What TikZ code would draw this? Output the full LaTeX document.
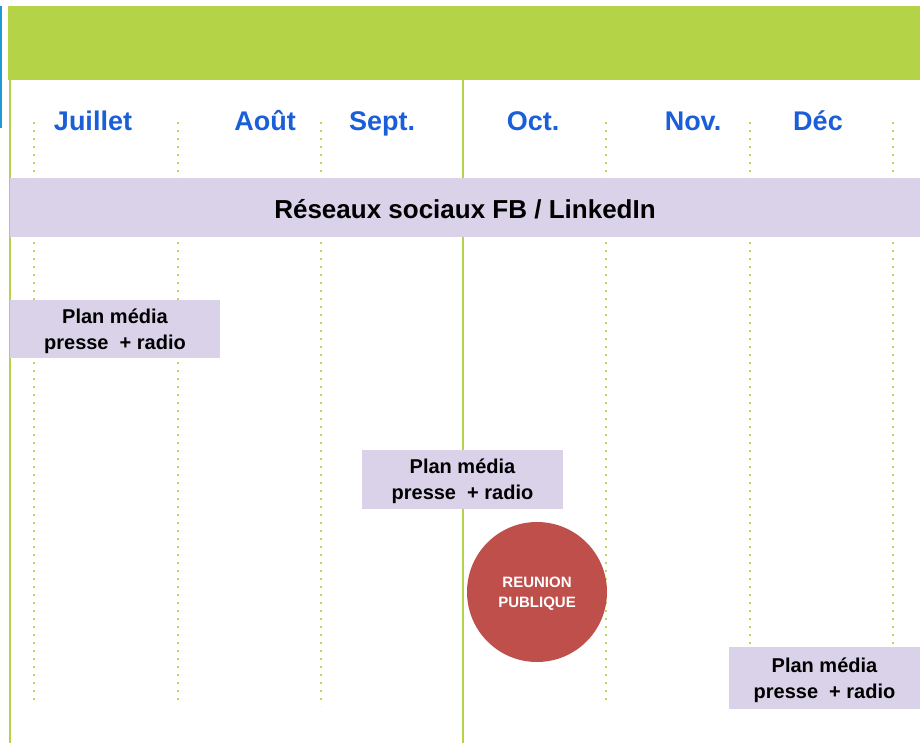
\documentclass[tikz,border=0pt]{standalone}
\usepackage{fontspec}
\setmainfont{Liberation Sans}
\definecolor{bandgreen}{HTML}{B5D347}
\definecolor{dotgreen}{HTML}{BFD850}
\definecolor{monthblue}{HTML}{1A5FD7}
\definecolor{edgeblue}{HTML}{1E9BD7}
\definecolor{lilac}{HTML}{D9D2E9}
\definecolor{meetred}{HTML}{BF4F4B}
\tikzset{
  month/.style={anchor=base, text=monthblue, font=\bfseries\fontsize{27}{30}\selectfont},
  mediabox/.style={fill=lilac, inner sep=0pt, align=center, text depth=0pt, font=\bfseries\fontsize{20}{26}\selectfont},
  monthsep/.style={dotgreen, line width=2pt, dash pattern=on 2pt off 6pt},
  mainsep/.style={bandgreen, line width=2.5pt}
}
\begin{document}
\begin{tikzpicture}[x=1pt, y=-1pt]
		\useasboundingbox (0,0) rectangle (920,743);
		
		% header
		\fill [bandgreen] (8,6) rectangle (920,80);
		\draw [edgeblue, line width=1.5pt] (0.75,6) -- (0.75,128);
		\draw [mainsep] (10,80) -- (10,743);
		\draw [mainsep] (463,80) -- (463,743);
		\foreach \x in {34,178,321,606,750,893}
			\draw [monthsep] (\x,122) -- (\x,706);
		
		% months
		\node (jul) at (93,131) [month] {Juillet};
		\node (aug) at (265,131) [month] {Août};
		\node (sep) at (382,131) [month] {Sept.};
		\node (oct) at (533,131) [month] {Oct.};
		\node (nov) at (693,131) [month] {Nov.};
		\node (dec) at (818,131) [month] {Déc};
		
		% actions
		\node (social) at (465,207.5) [mediabox, minimum width=910pt, minimum height=59pt, text height=22pt, font=\bfseries\fontsize{26}{30}\selectfont] {Réseaux sociaux FB / LinkedIn};
		\node (media1) at (115,329) [mediabox, minimum width=210pt, minimum height=58pt] {Plan média\\presse\ \ + radio};
		\node (media2) at (462.5,479.5) [mediabox, minimum width=201pt, minimum height=59pt] {Plan média\\presse\ \ + radio};
		\node (media3) at (824.5,678) [mediabox, minimum width=191pt, minimum height=62pt] {Plan média\\presse\ \ + radio};
		\node (meeting) at (537,592) [circle, fill=meetred, minimum size=140pt, inner sep=0pt, text=white, align=center, text depth=0pt, font=\bfseries\fontsize{15}{20}\selectfont] {REUNION\\PUBLIQUE};
		\end{tikzpicture}
\end{document}
